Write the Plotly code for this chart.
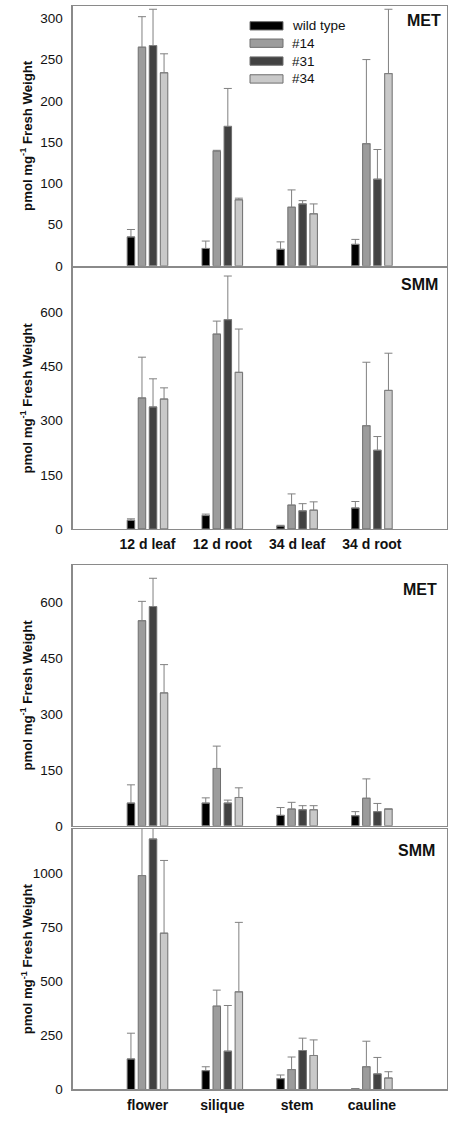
import plotly.graph_objects as go

W, H = 450, 1123

series = ["wild type", "#14", "#31", "#34"]
colors = ["#000000", "#9c9c9c", "#424242", "#c9c9c9"]

cats_top = ["12 d leaf", "12 d root", "34 d leaf", "34 d root"]
cats_bot = ["flower", "silique", "stem", "cauline"]

# Panel 1: MET (seedlings)
met1_wt = [35, 21, 20, 26]
met1_14 = [265, 139, 71, 148]
met1_31 = [267, 169, 75, 105]
met1_34 = [234, 80, 63, 233]
met1_wt_err = [9, 9, 9, 6]
met1_14_err = [37, 1, 21, 102]
met1_31_err = [44, 46, 4, 36]
met1_34_err = [23, 2, 12, 78]

# Panel 2: SMM (seedlings)
smm1_wt = [24, 37, 8, 58]
smm1_14 = [363, 540, 66, 286]
smm1_31 = [338, 580, 50, 218]
smm1_34 = [360, 434, 52, 384]
smm1_wt_err = [4, 4, 2, 18]
smm1_14_err = [113, 36, 31, 176]
smm1_31_err = [78, 121, 20, 38]
smm1_34_err = [31, 120, 23, 103]

# Panel 3: MET (mature organs)
met2_wt = [61, 61, 28, 27]
met2_14 = [551, 154, 45, 74]
met2_31 = [589, 61, 43, 38]
met2_34 = [357, 76, 43, 45]
met2_wt_err = [49, 14, 21, 11]
met2_14_err = [52, 60, 18, 52]
met2_31_err = [76, 8, 11, 22]
met2_34_err = [76, 26, 11, 0]

# Panel 4: SMM (mature organs)
smm2_wt = [141, 87, 50, 3]
smm2_14 = [988, 385, 92, 105]
smm2_31 = [1157, 177, 180, 72]
smm2_34 = [722, 451, 157, 53]
smm2_wt_err = [119, 18, 17, 0]
smm2_14_err = [300, 74, 58, 118]
smm2_31_err = [200, 211, 57, 76]
smm2_34_err = [336, 321, 72, 29]

panels = [
    dict(vals=[met1_wt, met1_14, met1_31, met1_34],
         errs=[met1_wt_err, met1_14_err, met1_31_err, met1_34_err],
         cats=cats_top, show_x=False, label="MET",
         yrange=[0, 315], ticks=[0, 50, 100, 150, 200, 250, 300],
         top=6, bottom=267.7, label_y=21, label_x=424),
    dict(vals=[smm1_wt, smm1_14, smm1_31, smm1_34],
         errs=[smm1_wt_err, smm1_14_err, smm1_31_err, smm1_34_err],
         cats=cats_top, show_x=True, label="SMM",
         yrange=[0, 723], ticks=[0, 150, 300, 450, 600],
         top=270, bottom=532.7, label_y=286.5, label_x=419.5),
    dict(vals=[met2_wt, met2_14, met2_31, met2_34],
         errs=[met2_wt_err, met2_14_err, met2_31_err, met2_34_err],
         cats=cats_bot, show_x=False, label="MET",
         yrange=[0, 700], ticks=[0, 150, 300, 450, 600],
         top=569.3, bottom=831.7, label_y=594, label_x=419.5),
    dict(vals=[smm2_wt, smm2_14, smm2_31, smm2_34],
         errs=[smm2_wt_err, smm2_14_err, smm2_31_err, smm2_34_err],
         cats=cats_bot, show_x=True, label="SMM",
         yrange=[0, 1203], ticks=[0, 250, 500, 750, 1000],
         top=835, bottom=1097.3, label_y=856.5, label_x=416.5),
]

FONT = "Liberation Sans, Arial, sans-serif"
AXC = "#8a8a8a"
X0, X1 = 72.7, 446.7

fig = go.Figure()
layout = dict(
    width=W, height=H,
    margin=dict(l=0, r=0, t=0, b=0),
    paper_bgcolor="white", plot_bgcolor="white",
    barmode="group", bargap=0.41, bargroupgap=0.32,
    showlegend=False,
    font=dict(family=FONT, size=14, color="#111111"),
)
annotations = []
shapes = []

xpos = [0, 1, 2, 3]
for i, p in enumerate(panels):
    n = i + 1
    xa = "x" if n == 1 else f"x{n}"
    ya = "y" if n == 1 else f"y{n}"
    for s, (name, col) in enumerate(zip(series, colors)):
        fig.add_trace(go.Bar(
            x=xpos, y=p["vals"][s], name=name,
            marker=dict(color=col, line=dict(color="#6e6e6e", width=1)),
            error_y=dict(type="data", array=p["errs"][s], symmetric=False,
                         arrayminus=[0, 0, 0, 0], color="#808080",
                         thickness=1, width=4),
            xaxis=xa, yaxis=ya, showlegend=False, hoverinfo="skip",
        ))
    ydom = [1 - p["bottom"] / H, 1 - p["top"] / H]
    xax = dict(
        domain=[X0 / W, X1 / W], anchor=ya, range=[-1, 4],
        ticks="", showgrid=False, zeroline=False,
        showline=True, linecolor=AXC, linewidth=1.3, mirror=True,
        tickfont=dict(family=FONT, size=14, color="#111111", weight="bold"),
        ticklabelstandoff=2, fixedrange=True,
    )
    if p["show_x"]:
        xax.update(tickvals=xpos, ticktext=p["cats"], showticklabels=True)
    else:
        xax.update(tickvals=[], showticklabels=False)
    layout["xaxis" if n == 1 else f"xaxis{n}"] = xax
    layout["yaxis" if n == 1 else f"yaxis{n}"] = dict(
        domain=ydom, anchor=xa, range=p["yrange"], tickvals=p["ticks"],
        ticks="", showgrid=False, zeroline=False,
        showline=True, linecolor=AXC, linewidth=1.3, mirror=True,
        tickfont=dict(family=FONT, size=13.5, color="#111111"),
        ticklabelstandoff=6, fixedrange=True,
    )
    annotations.append(dict(
        xref="paper", yref="paper", x=27 / W,
        y=1 - (p["top"] + p["bottom"]) / 2 / H,
        text="pmol mg<sup>-1</sup> Fresh Weight", textangle=-90,
        showarrow=False, xanchor="center", yanchor="middle",
        font=dict(family=FONT, size=13.2, color="#111111", weight="bold"),
    ))
    annotations.append(dict(
        xref="paper", yref="paper", x=p["label_x"] / W, y=1 - p["label_y"] / H,
        text=p["label"], showarrow=False, xanchor="center", yanchor="middle",
        font=dict(family=FONT, size=16, color="#111111", weight="bold"),
    ))

# legend (drawn in panel 1)
leg_rows = [26, 43.5, 61.5, 79.5]
for name, col, ry in zip(series, colors, leg_rows):
    shapes.append(dict(type="rect", xref="paper", yref="paper",
                       x0=250 / W, x1=283 / W,
                       y0=1 - (ry + 4.2) / H, y1=1 - (ry - 4.2) / H,
                       fillcolor=col, line=dict(color="#6e6e6e", width=1)))
    annotations.append(dict(
        xref="paper", yref="paper", x=290 / W, y=1 - ry / H, text=name,
        showarrow=False, xanchor="left", yanchor="middle",
        font=dict(family=FONT, size=13.5, color="#111111"),
    ))

layout["annotations"] = annotations
layout["shapes"] = shapes
fig.update_layout(**layout)
fig.write_html(
    "out.html",
    config={"displayModeBar": False, "staticPlot": True},
    post_script=(
        "var st=document.createElement('style');"
        "st.textContent='html,body{margin:0!important;padding:0!important;"
        "overflow:hidden!important;width:450px;height:1123px;}';"
        "document.head.appendChild(st);"
    ),
)
